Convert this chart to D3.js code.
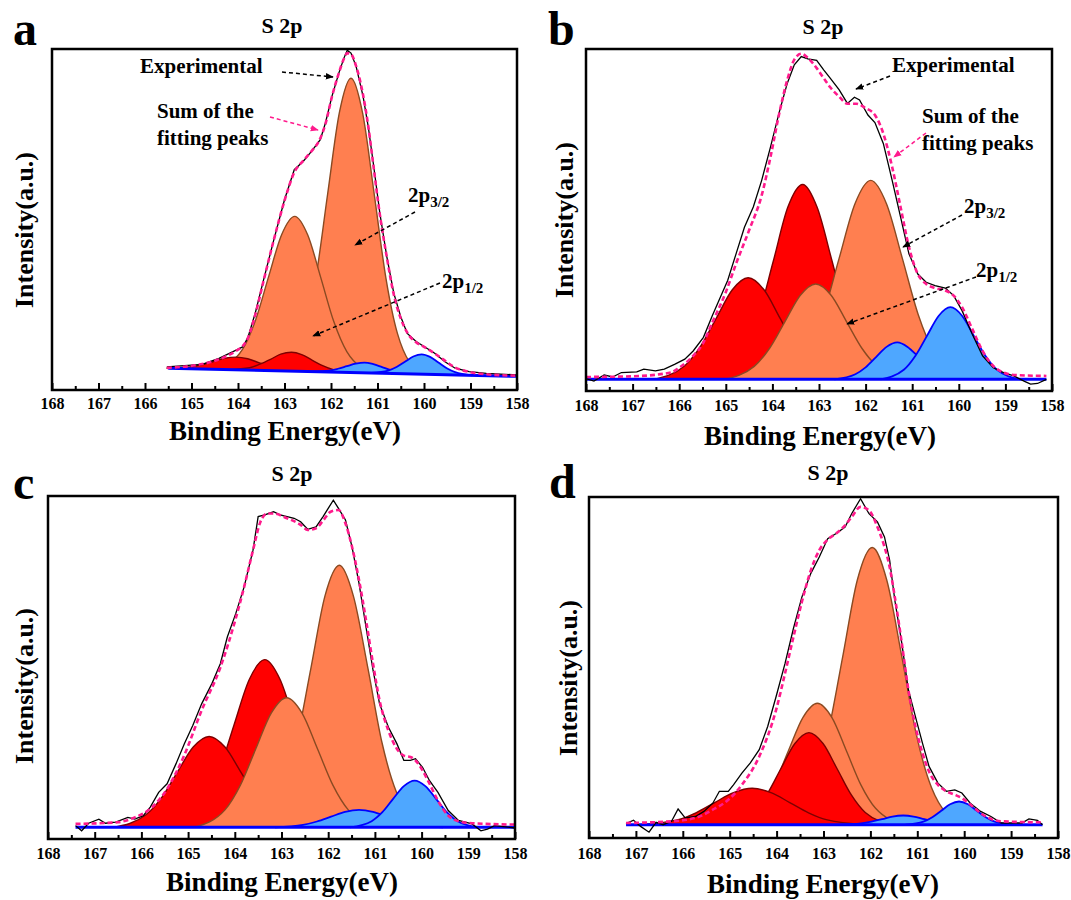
<!DOCTYPE html>
<html>
<head>
<meta charset="utf-8">
<script src="https://cdn.jsdelivr.net/npm/d3@7"></script>
<style>
body { margin: 0; background: #fff; }
text { font-family: "Liberation Serif", "Times New Roman", serif; font-weight: bold; fill: #000; }
</style>
</head>
<body>
<script>
// ---- data: binding energy (eV), intensity (a.u., 0-100 of the frame) ----
var majorTicks = d3.range(158, 169, 1);
var minorTicks = d3.range(158.5, 168, 1);

// panel a
var aExp = [[165.53,6.8],[164.77,7.5],[164.41,9.3],[164.04,11.7],[163.89,12.7],[163.78,15.7],[163.63,22.5],[163.45,32.3],[163.23,44.0],[163.0,55.8],[162.79,64.6],[162.6,67.0],[162.42,70.0],[162.23,73.4],[162.12,78.3],[161.98,86.1],[161.83,93.0],[161.72,97.4],[161.65,99.6],[161.57,98.8],[161.46,94.9],[161.31,86.1],[161.2,77.3],[161.09,66.5],[160.95,51.9],[160.8,39.1],[160.65,28.4],[160.5,21.5],[160.36,16.6],[160.17,14.2],[159.99,12.7],[159.77,10.8],[159.55,8.3],[159.33,6.4],[159.03,5.4],[158.66,4.9],[158.0,4.4]];
var aSum = [[165.53,6.5],[164.77,7.6],[164.41,9.0],[164.04,11.5],[163.89,13.0],[163.78,15.5],[163.63,22.0],[163.45,32.0],[163.23,44.0],[163.0,55.5],[162.79,63.8],[162.6,67.2],[162.42,70.0],[162.23,73.8],[162.12,78.0],[161.98,86.0],[161.83,93.0],[161.72,97.2],[161.65,98.8],[161.57,98.5],[161.46,95.0],[161.31,86.5],[161.2,77.5],[161.09,66.0],[160.95,51.5],[160.8,39.0],[160.65,28.0],[160.5,21.0],[160.36,16.8],[160.17,14.0],[159.99,12.6],[159.77,10.7],[159.55,8.6],[159.33,6.6],[159.03,5.3],[158.66,4.6],[158.0,4.2]];
var aBase = [[165.5,6.4],[158.0,4.0]];
var aKinds = ["mid","mid","high","high","low","low"];
var aPeaks = [
  [[163.07,0],[162.57,11.7],[162.32,28.0],[162.07,52.4],[161.82,76.1],[161.57,86.3],[161.32,76.1],[161.07,52.4],[160.82,28.0],[160.57,11.7],[160.07,0]],
  [[164.46,0],[163.90,6.1],[163.62,14.8],[163.34,27.6],[163.06,40.0],[162.78,45.4],[162.50,40.0],[162.22,27.6],[161.94,14.8],[161.66,6.1],[161.10,0]],
  [[165.54,0],[165.04,0.5],[164.79,1.2],[164.54,2.2],[164.29,3.3],[164.04,3.7],[163.79,3.3],[163.54,2.2],[163.29,1.2],[163.04,0.5],[162.54,0]],
  [[164.20,0],[163.75,0.7],[163.53,1.8],[163.30,3.3],[163.08,4.9],[162.85,5.5],[162.63,4.9],[162.40,3.3],[162.18,1.8],[161.95,0.7],[161.50,0]],
  [[162.42,0],[162.04,0.4],[161.85,1.0],[161.66,1.8],[161.47,2.6],[161.28,3.0],[161.09,2.6],[160.90,1.8],[160.71,1.0],[160.52,0.4],[160.14,0]],
  [[161.13,0],[160.77,0.8],[160.59,1.9],[160.41,3.5],[160.23,5.1],[160.05,5.8],[159.87,5.1],[159.69,3.5],[159.51,1.9],[159.33,0.8],[158.97,0]]
];

// panel b
var bExp = [[168.0,3.6],[167.83,2.9],[167.61,4.7],[167.43,4.1],[167.24,5.4],[166.91,5.6],[166.76,6.4],[166.51,5.9],[166.32,6.4],[166.1,7.8],[165.88,9.3],[165.7,11.7],[165.48,15.7],[165.29,22.0],[165.15,26.4],[164.96,32.3],[164.78,40.1],[164.6,47.9],[164.41,53.8],[164.23,61.6],[164.04,71.4],[163.86,81.2],[163.68,90.0],[163.53,95.4],[163.38,97.8],[163.24,97.1],[163.05,96.7],[162.9,93.9],[162.76,91.5],[162.57,88.1],[162.39,84.1],[162.24,85.9],[162.13,85.1],[161.95,80.7],[161.8,78.5],[161.62,72.4],[161.43,61.6],[161.25,50.9],[161.07,40.1],[160.88,34.2],[160.7,31.8],[160.51,30.8],[160.29,30.1],[160.11,27.9],[159.93,23.5],[159.71,16.6],[159.49,10.3],[159.26,6.8],[159.04,5.4],[158.82,4.4],[158.6,2.9],[158.46,2.0],[158.31,2.2],[158.12,3.4]];
var bSum = [[168.0,4.1],[167.0,4.3],[166.18,5.4],[166.0,6.8],[165.7,10.3],[165.5,13.7],[165.29,20.0],[165.0,28.9],[164.78,37.2],[164.5,47.0],[164.23,57.2],[164.04,68.5],[163.86,80.7],[163.68,91.0],[163.53,96.9],[163.38,98.6],[163.24,97.4],[163.05,94.4],[162.9,91.5],[162.76,88.8],[162.57,86.1],[162.39,84.0],[162.2,84.0],[162.0,82.7],[161.8,80.7],[161.62,75.3],[161.43,65.5],[161.25,53.8],[161.07,42.1],[160.88,34.2],[160.7,31.3],[160.51,30.1],[160.29,29.4],[160.11,27.9],[159.93,24.5],[159.71,18.1],[159.49,11.7],[159.26,7.3],[159.04,5.4],[158.82,4.7],[158.12,4.4]];
var bBase = [[168.0,3.4],[158.12,3.4]];
var bKinds = ["high","high","mid","mid","low","low"];
var bPeaks = [
  [[165.24,0],[164.61,7.7],[164.30,18.5],[163.98,34.6],[163.67,50.3],[163.35,57.0],[163.04,50.3],[162.72,34.6],[162.41,18.5],[162.09,7.7],[161.46,0]],
  [[166.56,0],[165.88,4.0],[165.54,9.7],[165.20,18.0],[164.86,26.2],[164.52,29.7],[164.18,26.2],[163.84,18.0],[163.50,9.7],[163.16,4.0],[162.48,0]],
  [[163.93,0],[163.25,7.9],[162.91,18.9],[162.57,35.3],[162.23,51.3],[161.89,58.2],[161.55,51.3],[161.21,35.3],[160.87,18.9],[160.53,7.9],[159.85,0]],
  [[165.05,0],[164.39,3.8],[164.06,9.1],[163.73,16.9],[163.40,24.6],[163.07,27.9],[162.74,24.6],[162.41,16.9],[162.08,9.1],[161.75,3.8],[161.09,0]],
  [[162.67,0],[162.22,1.5],[162.00,3.5],[161.77,6.6],[161.55,9.5],[161.32,10.8],[161.10,9.5],[160.87,6.6],[160.65,3.5],[160.42,1.5],[159.97,0]],
  [[161.68,0],[161.18,2.8],[160.93,6.9],[160.68,12.8],[160.43,18.6],[160.18,21.1],[159.93,18.6],[159.68,12.8],[159.43,6.9],[159.18,2.8],[158.68,0]]
];

// panel c
var cExp = [[167.41,3.9],[167.28,2.4],[167.13,4.6],[166.91,5.8],[166.77,4.6],[166.55,4.9],[166.29,6.3],[166.14,5.8],[165.96,6.8],[165.81,9.3],[165.63,13.6],[165.45,16.1],[165.26,21.9],[165.08,27.8],[164.9,33.1],[164.71,39.4],[164.49,45.3],[164.31,51.1],[164.16,58.9],[163.98,65.7],[163.8,73.5],[163.61,84.2],[163.5,94.0],[163.36,94.5],[163.17,95.4],[163.03,94.5],[162.88,94.0],[162.73,93.5],[162.59,92.5],[162.44,90.3],[162.26,91.0],[162.11,94.0],[162.0,96.4],[161.89,98.8],[161.78,96.4],[161.63,93.0],[161.49,85.2],[161.34,74.5],[161.19,61.8],[161.04,49.2],[160.9,39.4],[160.71,32.6],[160.53,27.8],[160.38,22.9],[160.24,22.9],[160.13,23.4],[159.98,20.9],[159.83,17.0],[159.65,13.6],[159.43,8.3],[159.21,5.4],[158.92,4.4],[158.73,2.4],[158.59,2.9],[158.44,3.9],[158.0,3.2]];
var cSum = [[167.41,4.4],[166.5,4.9],[166.14,6.3],[165.81,8.8],[165.45,14.6],[165.08,24.5],[164.71,37.5],[164.31,50.0],[163.98,64.3],[163.8,73.5],[163.61,84.2],[163.45,92.5],[163.3,94.9],[163.17,94.9],[162.88,93.5],[162.59,91.6],[162.44,90.1],[162.26,90.6],[162.11,92.8],[161.95,95.4],[161.78,95.9],[161.63,92.0],[161.49,85.2],[161.34,75.5],[161.19,63.8],[161.04,51.1],[160.9,40.4],[160.71,31.6],[160.53,26.3],[160.38,24.3],[160.24,23.9],[160.13,22.9],[159.98,20.0],[159.83,16.1],[159.65,11.2],[159.43,6.8],[159.21,5.2],[158.92,4.6],[158.0,4.2]];
var cBase = [[167.41,3.4],[158.0,3.4]];
var cKinds = ["high","high","mid","mid","low","low"];
var cPeaks = [
  [[165.34,0],[164.68,6.6],[164.35,15.9],[164.02,29.7],[163.69,43.1],[163.36,48.9],[163.03,43.1],[162.70,29.7],[162.37,15.9],[162.04,6.6],[161.38,0]],
  [[166.59,0],[165.91,3.6],[165.57,8.6],[165.23,16.1],[164.89,23.4],[164.55,26.5],[164.21,23.4],[163.87,16.1],[163.53,8.6],[163.19,3.6],[162.51,0]],
  [[163.59,0],[162.98,10.3],[162.68,24.8],[162.37,46.4],[162.07,67.4],[161.76,76.4],[161.46,67.4],[161.15,46.4],[160.85,24.8],[160.54,10.3],[159.93,0]],
  [[164.87,0],[164.21,5.1],[163.88,12.3],[163.55,22.9],[163.22,33.3],[162.89,37.8],[162.56,33.3],[162.23,22.9],[161.90,12.3],[161.57,5.1],[160.91,0]],
  [[163.14,0],[162.54,0.7],[162.24,1.7],[161.94,3.1],[161.64,4.5],[161.34,5.1],[161.04,4.5],[160.74,3.1],[160.44,1.7],[160.14,0.7],[159.54,0]],
  [[161.53,0],[161.07,1.8],[160.84,4.4],[160.61,8.3],[160.38,12.0],[160.15,13.6],[159.92,12.0],[159.69,8.3],[159.46,4.4],[159.23,1.8],[158.77,0]]
];

// panel d
var dExp = [[167.21,4.2],[167.05,5.2],[166.9,3.4],[166.72,1.7],[166.57,4.6],[166.42,3.9],[166.24,4.9],[166.1,8.5],[165.95,5.9],[165.73,6.3],[165.55,7.8],[165.36,10.2],[165.22,13.7],[165.03,13.7],[164.92,15.6],[164.74,19.0],[164.56,22.0],[164.37,25.9],[164.19,32.7],[164.01,41.5],[163.82,51.2],[163.64,61.5],[163.46,70.7],[163.27,77.6],[163.09,82.4],[162.91,87.8],[162.73,89.3],[162.54,91.2],[162.4,95.1],[162.21,99.5],[162.03,95.1],[161.85,92.7],[161.7,88.3],[161.59,81.5],[161.48,69.8],[161.33,57.1],[161.19,43.4],[161.04,35.6],[160.89,27.8],[160.75,21.0],[160.56,16.1],[160.38,13.7],[160.2,14.1],[160.05,13.2],[159.87,10.2],[159.65,7.8],[159.43,6.3],[159.21,4.4],[158.92,4.4],[158.77,4.4],[158.62,5.6],[158.44,5.2],[158.33,3.9]];
var dSum = [[167.21,4.4],[166.24,4.9],[165.73,5.9],[165.36,8.3],[165.03,11.2],[164.74,15.6],[164.37,23.9],[164.01,37.6],[163.82,48.3],[163.64,59.0],[163.46,69.3],[163.27,78.5],[163.09,84.4],[162.91,87.5],[162.73,89.3],[162.54,91.7],[162.4,94.1],[162.21,97.1],[162.03,96.1],[161.85,91.2],[161.7,85.4],[161.59,79.5],[161.48,70.7],[161.33,57.1],[161.19,43.4],[161.04,32.7],[160.89,24.9],[160.75,19.5],[160.56,15.6],[160.38,13.7],[160.2,12.7],[160.05,11.7],[159.87,9.8],[159.65,7.3],[159.43,5.6],[159.21,4.9],[158.33,4.6]];
var dBase = [[167.21,3.9],[158.33,3.9]];
var dKinds = ["mid","mid","high","high","low","low"];
var dPeaks = [
  [[163.85,0],[163.22,11.0],[162.91,26.4],[162.59,49.3],[162.28,71.7],[161.96,81.3],[161.65,71.7],[161.33,49.3],[161.02,26.4],[160.70,11.0],[160.07,0]],
  [[164.99,0],[164.37,4.8],[164.06,11.6],[163.75,21.6],[163.44,31.4],[163.13,35.6],[162.82,31.4],[162.51,21.6],[162.20,11.6],[161.89,4.8],[161.27,0]],
  [[165.11,0],[164.51,3.6],[164.21,8.8],[163.91,16.4],[163.61,23.8],[163.31,27.0],[163.01,23.8],[162.71,16.4],[162.41,8.8],[162.11,3.6],[161.51,0]],
  [[166.92,0],[166.12,1.4],[165.72,3.5],[165.32,6.5],[164.92,9.4],[164.52,10.7],[164.12,9.4],[163.72,6.5],[163.32,3.5],[162.92,1.4],[162.12,0]],
  [[162.65,0],[162.20,0.4],[161.98,0.9],[161.75,1.6],[161.53,2.4],[161.30,2.7],[161.08,2.4],[160.85,1.6],[160.63,0.9],[160.40,0.4],[159.95,0]],
  [[161.25,0],[160.87,0.9],[160.68,2.2],[160.49,4.1],[160.30,6.0],[160.11,6.8],[159.92,6.0],[159.73,4.1],[159.54,2.2],[159.35,0.9],[158.97,0]]
];

var titleText = "S 2p";
var xTitle = "Binding Energy(eV)";
var yTitle = "Intensity(a.u.)";

// ---- styles ----
var kindFill = {high: "#ff0000", mid: "#ff7f50", low: "#4ea7ff"};
var kindStroke = {high: "#7d0000", mid: "#8a4a22", low: "#0000ff"};
var pink = "#ff1a8c";

var svg = d3.select("body").append("svg")
    .attr("width", 1071)
    .attr("height", 900);

var defs = svg.append("defs");
function addMarker(id, color) {
    defs.append("marker")
        .attr("id", id)
        .attr("viewBox", "0 0 10 10")
        .attr("refX", 9).attr("refY", 5)
        .attr("markerWidth", 8).attr("markerHeight", 8)
        .attr("markerUnits", "userSpaceOnUse")
        .attr("orient", "auto")
        .append("path")
        .attr("d", "M0,1 L10,5 L0,9 z")
        .attr("fill", color);
}
addMarker("headBlack", "#000");
addMarker("headPink", pink);

function drawPanel(p) {
    var g = svg.append("g");

    var x = d3.scaleLinear().domain([168, 158]).range([p.left, p.right]);
    var y = d3.scaleLinear().domain([0, 100]).range([p.bottom, p.top]);
    // straight background line, intensity as function of energy
    var base = d3.scaleLinear()
        .domain(p.base.map(function (d) { return d[0]; }))
        .range(p.base.map(function (d) { return d[1]; }));

    g.append("clipPath").attr("id", "clip" + p.id)
        .append("rect")
        .attr("x", p.left).attr("y", p.top)
        .attr("width", p.right - p.left).attr("height", p.bottom - p.top);

    var plot = g.append("g").attr("clip-path", "url(#clip" + p.id + ")");

    // fitted components
    p.peaks.forEach(function (pk, i) {
        var kind = p.kinds[i];
        var area = d3.area()
            .x(function (d) { return x(d[0]); })
            .y0(function (d) { return y(base(d[0])); })
            .y1(function (d) { return y(base(d[0]) + d[1]); })
            .curve(d3.curveMonotoneX);
        var top = d3.line()
            .x(function (d) { return x(d[0]); })
            .y(function (d) { return y(base(d[0]) + d[1]); })
            .curve(d3.curveMonotoneX);
        plot.append("path").datum(pk).attr("d", area).attr("fill", kindFill[kind]);
        plot.append("path").datum(pk).attr("d", top)
            .attr("fill", "none")
            .attr("stroke", kindStroke[kind])
            .attr("stroke-width", kind == "low" ? 1.8 : 1.4);
    });

    // background
    plot.append("path").datum(p.base)
        .attr("d", d3.line().x(function (d) { return x(d[0]); }).y(function (d) { return y(d[1]); }))
        .attr("stroke", "#0000ff").attr("stroke-width", 3).attr("fill", "none");

    var line = d3.line()
        .x(function (d) { return x(d[0]); })
        .y(function (d) { return y(d[1]); });

    // experimental
    plot.append("path").datum(p.exp)
        .attr("d", line)
        .attr("fill", "none").attr("stroke", "#000").attr("stroke-width", 1.3);

    // sum of the fitting peaks
    plot.append("path").datum(p.sum)
        .attr("d", line.curve(d3.curveMonotoneX))
        .attr("fill", "none").attr("stroke", pink)
        .attr("stroke-width", 2.6).attr("stroke-dasharray", "5,3");

    // axis ticks (inward, bottom only)
    var axMajor = d3.axisBottom(x).tickValues(majorTicks).tickSize(-7)
        .tickPadding(p.tickPad).tickFormat(d3.format("d"));
    var axMinor = d3.axisBottom(x).tickValues(minorTicks).tickSize(-4).tickFormat("");
    [axMajor, axMinor].forEach(function (ax) {
        var a = g.append("g")
            .attr("transform", "translate(0," + p.bottom + ")")
            .call(ax);
        a.select(".domain").remove();
        a.attr("font-size", 16).attr("font-family", null);
        a.selectAll("line").attr("stroke-width", 2);
    });

    // frame
    g.append("rect")
        .attr("x", p.left).attr("y", p.top)
        .attr("width", p.right - p.left).attr("height", p.bottom - p.top)
        .attr("fill", "none").attr("stroke", "#000").attr("stroke-width", 2.5);

    g.append("text").attr("x", p.letter[0]).attr("y", p.letter[1])
        .attr("font-size", 48).text(p.id);
    g.append("text").attr("x", p.title[0]).attr("y", p.title[1])
        .attr("font-size", 22).attr("text-anchor", "middle").text(titleText);
    g.append("text").attr("x", p.xlab[0]).attr("y", p.xlab[1])
        .attr("font-size", 27).attr("text-anchor", "middle").text(xTitle);
    g.append("text")
        .attr("transform", "translate(" + p.ylab[0] + "," + p.ylab[1] + ") rotate(-90)")
        .attr("dy", "0.33em")
        .attr("font-size", 26).attr("text-anchor", "middle").text(yTitle);

    if (p.notes) drawNotes(g, p.notes);
}

function drawNotes(g, n) {
    g.append("text").attr("x", n.exp[0]).attr("y", n.exp[1]).attr("font-size", 21).text("Experimental");
    g.append("text").attr("x", n.sum[0]).attr("y", n.sum[1]).attr("font-size", 21).text("Sum of the");
    g.append("text").attr("x", n.sum[0]).attr("y", n.sum[1] + 27).attr("font-size", 21).text("fitting peaks");
    [["3/2", n.p32], ["1/2", n.p12]].forEach(function (s) {
        var t = g.append("text").attr("x", s[1][0]).attr("y", s[1][1]).attr("font-size", 21);
        t.append("tspan").text("2p");
        t.append("tspan").attr("font-size", 15).attr("dy", 5).text(s[0]);
    });
    n.arrows.forEach(function (a) {
        g.append("line")
            .attr("x1", a[0]).attr("y1", a[1]).attr("x2", a[2]).attr("y2", a[3])
            .attr("stroke", a[4] ? pink : "#000")
            .attr("stroke-width", 1.5)
            .attr("stroke-dasharray", "4,3")
            .attr("marker-end", a[4] ? "url(#headPink)" : "url(#headBlack)");
    });
}

var panels = [
    {id: "a", exp: aExp, sum: aSum, base: aBase, kinds: aKinds, peaks: aPeaks,
     left: 52, right: 517, top: 49, bottom: 390, tickPad: 8,
     letter: [13, 45], title: [282, 33], xlab: [285, 440], ylab: [24, 230],
     notes: {exp: [140, 73], sum: [157, 118], p32: [408, 202], p12: [442, 288],
             arrows: [[282, 72, 333, 77, 0], [270, 117, 318, 130, 1], [415, 212, 355, 245, 0], [440, 283, 313, 336, 0]]}},
    {id: "b", exp: bExp, sum: bSum, base: bBase, kinds: bKinds, peaks: bPeaks,
     left: 586, right: 1052, top: 49, bottom: 391, tickPad: 9,
     letter: [548, 45], title: [823, 34], xlab: [820, 445], ylab: [564, 220],
     notes: {exp: [892, 72], sum: [922, 123], p32: [964, 213], p12: [976, 277],
             arrows: [[890, 76, 856, 89, 0], [926, 133, 894, 157, 1], [962, 215, 903, 247, 0], [976, 277, 847, 324, 0]]}},
    {id: "c", exp: cExp, sum: cSum, base: cBase, kinds: cKinds, peaks: cPeaks,
     left: 48, right: 515, top: 496, bottom: 839, tickPad: 8.5,
     letter: [13, 499], title: [292, 481], xlab: [282, 891], ylab: [24, 686]},
    {id: "d", exp: dExp, sum: dSum, base: dBase, kinds: dKinds, peaks: dPeaks,
     left: 589, right: 1058, top: 497, bottom: 838, tickPad: 10,
     letter: [549, 498], title: [828, 480], xlab: [823, 893], ylab: [568, 678]}
];

panels.forEach(drawPanel);
</script>
</body>
</html>
